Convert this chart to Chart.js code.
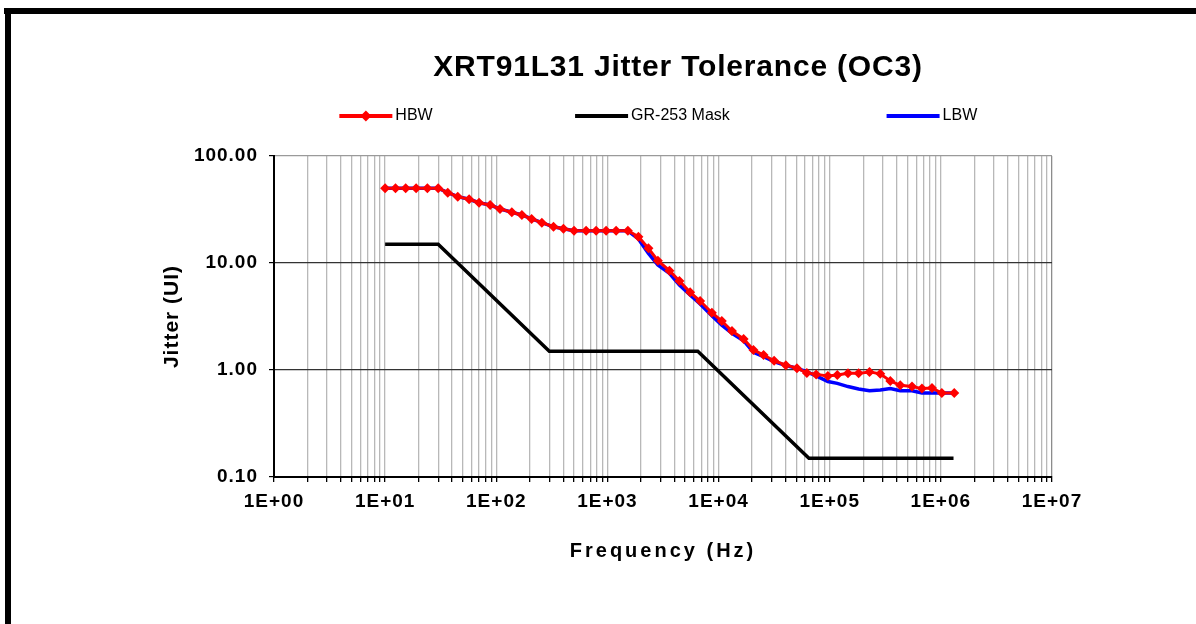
<!DOCTYPE html>
<html>
<head>
<meta charset="utf-8">
<script src="https://cdn.jsdelivr.net/npm/chart.js@4.4.1/dist/chart.umd.min.js"></script>
<style>
  html, body { margin: 0; padding: 0; background: #fff; }
  #wrap { position: relative; width: 1196px; height: 624px; overflow: hidden; background: #fff; }
  #c { position: absolute; left: 0; top: 0; }
  .bar { position: absolute; background: #000; }
</style>
</head>
<body>
<div id="wrap">
  <canvas id="c" width="1196" height="624"></canvas>
  <div class="bar" style="left:4px; top:8px; width:1192px; height:6px;"></div>
  <div class="bar" style="left:5px; top:8px; width:6px; height:616px;"></div>
</div>
<script>
// ---- data ----
const titleText = 'XRT91L31 Jitter Tolerance (OC3)';
const xTitle = 'Frequency (Hz)';
const yTitle = 'Jitter (UI)';
const seriesNames = ['HBW', 'GR-253 Mask', 'LBW'];

const freqMeas = [10, 12.4, 15.3, 19, 24, 30, 36.6, 45, 57, 70, 88, 108, 138, 170, 208, 257,
  327, 402, 501, 643, 791, 973, 1197, 1527, 1900, 2340, 2843, 3615, 4446, 5550, 6825,
  8700, 10700, 13200, 16800, 20600, 25400, 31600, 40300, 50700, 62300, 75600, 96300,
  117000, 146000, 182000, 228000, 285000, 351000, 431000, 550000, 676000, 832000, 1020000, 1320000];

const hbw = [50, 50, 50, 50, 50, 50, 45.4, 41.7, 39.4, 36.6, 34.8, 32, 29.8, 28.1, 25.8, 23.8,
  21.8, 20.9, 20, 20, 20, 20, 20, 20, 17.6, 13.7, 10.5, 8.47, 6.79, 5.32, 4.41,
  3.43, 2.87, 2.31, 1.95, 1.54, 1.38, 1.22, 1.11, 1.04, 0.94, 0.91, 0.88,
  0.90, 0.93, 0.93, 0.96, 0.92, 0.79, 0.72, 0.70, 0.67, 0.68, 0.61, 0.61];

const lbw = [50, 50, 50, 50, 50, 50, 45.4, 41.7, 39.4, 36.6, 34.8, 32, 29.8, 28.1, 25.8, 23.8,
  21.8, 20.9, 20, 20, 20, 20, 20, 20, 16.8, 12.3, 9.58, 8.0, 6.23, 5.02, 4.14,
  3.22, 2.63, 2.20, 1.88, 1.46, 1.33, 1.20, 1.10, 1.04, 0.96, 0.88, 0.78,
  0.75, 0.70, 0.665, 0.64, 0.65, 0.67, 0.64, 0.64, 0.61, 0.61, 0.61, 0.61];

const maskFreq = [10, 30, 300, 6500, 65000, 1300000];
const maskJitter = [15, 15, 1.5, 1.5, 0.15, 0.15];

const xDecades = [0, 1, 2, 3, 4, 5, 6, 7];
const yTickValues = [0.1, 1, 10, 100];
// --------------------------------------

const FONT = "'Liberation Sans', Arial, Helvetica, sans-serif";
const pts = (xs, ys) => xs.map((x, i) => ({ x: x, y: ys[i] }));

const xTickValues = [];
xDecades.forEach(d => {
  if (d === xDecades[xDecades.length - 1]) { xTickValues.push(Math.pow(10, d)); return; }
  for (let k = 1; k <= 9; k++) xTickValues.push(k * Math.pow(10, d));
});
const isPow10 = v => Math.abs(Math.log10(v) - Math.round(Math.log10(v))) < 1e-9;

// letter spacing per font size (the reference text is rendered slightly spaced)
const spacingPlugin = {
  id: 'spacing',
  beforeDraw(chart) {
    const ctx = chart.ctx;
    if (ctx.__spaced) return;
    ctx.__spaced = true;
    const orig = ctx.fillText;
    ctx.fillText = function (t, x, y, m) {
      const f = this.font;
      let ls = '0px';
      if (f.indexOf('30px') >= 0) ls = '0.8px';
      else if (f.indexOf('20px') >= 0) ls = '3px';
      else if (f.indexOf('21px') >= 0) ls = '1px';
      else if (f.indexOf('19px') >= 0) ls = '1px';
      this.letterSpacing = ls;
      const r = m === undefined ? orig.call(this, t, x, y) : orig.call(this, t, x, y, m);
      this.letterSpacing = '0px';
      return r;
    };
  }
};

// custom legend: line + marker, items separated by a wide gap
const legendPlugin = {
  id: 'wideLegend',
  afterDraw(chart) {
    const ctx = chart.ctx;
    const ds = chart.data.datasets;
    const lineLen = 53, gap = 3, between = 137, yMid = 116;
    ctx.save();
    ctx.font = '16px ' + FONT;
    ctx.letterSpacing = '1.8px';
    const widths = ds.map(d => lineLen + gap + ctx.measureText(d.label).width);
    const total = widths.reduce((a, b) => a + b, 0) + between * (ds.length - 1);
    let x = 661 - total / 2;
    ds.forEach((d, i) => {
      ctx.strokeStyle = d.borderColor;
      ctx.lineWidth = 4;
      ctx.beginPath();
      ctx.moveTo(x, yMid);
      ctx.lineTo(x + lineLen, yMid);
      ctx.stroke();
      if (d.pointRadius > 0) {
        const cx = x + lineLen / 2, r = 5.5;
        ctx.fillStyle = d.pointBackgroundColor;
        ctx.beginPath();
        ctx.moveTo(cx, yMid - r); ctx.lineTo(cx + r, yMid); ctx.lineTo(cx, yMid + r); ctx.lineTo(cx - r, yMid);
        ctx.closePath(); ctx.fill();
      }
      ctx.fillStyle = '#000';
      ctx.textBaseline = 'middle';
      ctx.textAlign = 'left';
      ctx.fillText(d.label, x + lineLen + gap, yMid);
      x += widths[i] + between;
    });
    ctx.restore();
  }
};

Chart.defaults.font.family = FONT;
Chart.defaults.color = '#000';

new Chart(document.getElementById('c'), {
  type: 'line',
  data: {
    datasets: [
      {
        label: seriesNames[0], data: pts(freqMeas, hbw),
        borderColor: '#ff0000', backgroundColor: '#ff0000', borderWidth: 3,
        pointStyle: 'rectRot', pointRadius: 5, pointBackgroundColor: '#ff0000',
        pointBorderColor: '#ff0000', pointBorderWidth: 0, tension: 0
      },
      {
        label: seriesNames[1], data: pts(maskFreq, maskJitter),
        borderColor: '#000000', backgroundColor: '#000000', borderWidth: 3.5,
        pointRadius: 0, tension: 0
      },
      {
        label: seriesNames[2], data: pts(freqMeas, lbw),
        borderColor: '#0000ff', backgroundColor: '#0000ff', borderWidth: 3.5,
        pointRadius: 0, tension: 0
      }
    ]
  },
  options: {
    responsive: false,
    animation: false,
    events: [],
    layout: { padding: { left: 160, right: 0, top: 0, bottom: 0 } },
    plugins: {
      legend: { display: false },
      tooltip: { enabled: false },
      title: {
        display: true, text: titleText, color: '#000',
        font: { size: 30, weight: 'bold', family: FONT },
        padding: { top: 50, bottom: 70 }
      }
    },
    scales: {
      x: {
        type: 'logarithmic', min: 1, max: 1e7,
        afterBuildTicks: s => { s.ticks = xTickValues.map(v => ({ value: v, major: isPow10(v) })); },
        afterFit: s => { s.height = 147; },
        ticks: {
          autoSkip: false, maxRotation: 0, minRotation: 0, padding: 8, color: '#000',
          font: { size: 19, weight: 'bold', family: FONT },
          callback: v => isPow10(v) ? '1E+' + String(Math.round(Math.log10(v))).padStart(2, '0') : ''
        },
        grid: {
          color: c => {
            const v = c.tick ? c.tick.value : 0;
            if (v === 1) return 'rgba(0,0,0,0)';
            if (v === 1e7) return '#8c8c8c';
            return '#b8b8b8';
          },
          lineWidth: 1.3, tickLength: 5, tickColor: '#000', drawTicks: true
        },
        border: { display: true, color: '#000', width: 2 },
        title: {
          display: true, text: xTitle, color: '#000',
          font: { size: 20, weight: 'bold', family: FONT },
          padding: { top: 0, bottom: 61 }
        }
      },
      y: {
        type: 'logarithmic', min: 0.1, max: 100,
        afterBuildTicks: s => { s.ticks = yTickValues.map(v => ({ value: v, major: true })); },
        afterFit: s => { s.width = 114; },
        ticks: {
          autoSkip: false, padding: 11, color: '#000',
          font: { size: 19, weight: 'bold', family: FONT },
          callback: v => Number(v).toFixed(2)
        },
        grid: {
          color: c => {
            const v = c.tick ? c.tick.value : 0;
            if (v === 100) return '#9a9a9a';
            return '#333333';
          },
          lineWidth: 1.2, tickLength: 5, tickColor: '#000', drawTicks: true
        },
        border: { display: true, color: '#000', width: 2 },
        title: {
          display: true, text: yTitle, color: '#000',
          font: { size: 21, weight: 'bold', family: FONT },
          padding: { top: 0, bottom: 0 }
        }
      },
      spacer: {
        type: 'linear', position: 'right', display: true,
        afterFit: s => { s.width = 144; },
        grid: { display: false, drawTicks: false },
        border: { display: false },
        ticks: { display: false },
        title: { display: false }
      }
    }
  },
  plugins: [spacingPlugin, legendPlugin]
});
</script>
</body>
</html>
